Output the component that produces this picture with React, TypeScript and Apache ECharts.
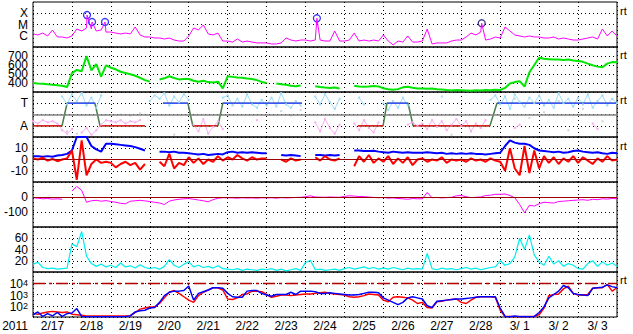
import React, { useEffect, useRef } from 'react';
import * as echarts from 'echarts';

// ---------------- data (3-hour steps from 2011-02-17 00:00 UT) ----------------
const STEP_H = 3;
const dateLabels = ['2/17', '2/18', '2/19', '2/20', '2/21', '2/22', '2/23', '2/24', '2/25', '2/26', '2/27', '2/28', '3/ 1', '3/ 2', '3/ 3'];

// X-ray flux, log10(W/m^2)
const xrayLog = [
  -5.84, -5.93, -5.76, -6.02, -5.49, -6.11, -6.11, -6.2,
  -6.02, -5.4, -5.58, -5.31, -5.4, -5.58, -5.49, -5.67,
  -5.67, -5.76, -5.84, -5.76, -5.84, -5.22, -5.93, -6.11,
  -6.11, -6.2, -6.2, -6.29, -6.2, -6.38, -6.47, -6.47,
  -6.02, -5.31, -5.49, -5.04, -5.84, -5.93, -5.76, -6.47,
  -6.47, -6.56, -6.29, -6.56, -6.47, -6.56, -6.64, -6.64,
  -6.64, -6.73, -6.73, -6.64, -6.2, -6.38, -6.47, -6.38,
  -6.38, -6.47, -6.38, -6.38, -6.47, -6.47, -5.58, -6.47,
  -6.47, -6.38, -5.76, -6.47, -6.38, -6.47, -6.38, -6.47,
  -5.93, -6.47, -6.82, -6.47, -6.56, -6.02, -6.56, -6.56,
  -6.47, -5.4, -6.73, -6.64, -6.64, -6.64, -6.47, -6.38,
  -6.38, -6.11, -5.76, -5.93, -5.67, -6.38, -6.29, -6.11,
  -6.2, -5.22, -5.58, -5.93, -6.02, -6.11, -6.02, -6.11,
  -6.11, -6.2, -6.2, -6.11, -6.29, -6.2, -6.29, -6.38,
  -6.38, -6.29, -6.2, -6.11, -6.29, -5.4, -6.02, -5.58, -6.02,
];
const flareHours = [33.3, 36.4, 44.4, 175, 276.6];
const flareLog = [-4.16, -4.78, -4.78, -4.45, -4.89];
const flareColors = ['#0000ff', '#0000ff', '#0000ff', '#0000ff', '#000066'];

// Solar wind speed, km/s
const windSpeed = [
  400, 395, 392, 385, 380, 376, 370, 355,
  510, 545, 530, 700, 540, 610, 470, 595,
  570, 552, 525, 512, 498, 480, 458, 432,
  415, null, 438, 452, 475, 455, 440, 445,
  445, 425, 415, 425, 410, 405, 415, 340,
  475, 468, 460, 458, 450, 445, 432, 412,
  400, null, 395, 385, 380, 370, 365, 372,
  null, null, 365, 356, 350, 345, 350, 340,
  null, null, 370, 362, 358, 360, 366, 362,
  342, 330, 325, 332, 352, 358, 348, 340,
  338, 335, 340, 330, 328, 322, 318, 322,
  320, 318, 315, 320, 318, 322, 320, 325,
  322, 345, 395, 410, 420, 360, 520, 600,
  680, 670, 665, 660, 662, 655, 660, 650,
  645, 635, 615, 598, 582, 575, 615, 632, 630,
];

// IMF sector polarity (T = +1, A = -1)
const polarityHours = [0, 17.9, 21, 38.2, 41.3, 69, 74, 80.1, 95.5, 98.5, 114, 117, 165.8, 180, 200.3, 215.8, 218.2, 231.2, 234.3, 281.7, 286, 360];
const polarityState = [-1, -1, 1, 1, -1, -1, null, 1, 1, -1, -1, 1, 1, null, -1, -1, 1, 1, -1, -1, 1, 1];

// IMF angle samples (toward / away / other)
const angleToward = [
  null, null, null, null, null, null, 1.6, 0.9,
  1.8, 1.2, 1.9, 0.8, 1.5, 0.6, 1.7, null,
  null, null, null, null, null, null, null, null,
  1.2, 1.7, 1.4, 1.9, 0.8, 1.6, 1.1, 1.8,
  1.3, null, null, null, null, null, null, 1.5,
  1.7, 0.8, 1.4, 0.7, 1.8, 0.9, 0.6, 1.3,
  0.8, 1.5, 0.7, 1.9, 0.9, 0.6, 1.2, 0.8,
  null, null, 1.6, 0.9, 1.8, 1.1, 0.5, 1.4,
  null, null, null, 1.5, 0.9, null, null, null,
  1.0, 0.4, 1.2, 0.6, 1.5, 0.8, null, null,
  null, null, null, null, 1.6, null, null, null,
  null, null, null, null, null, null, 1.3, 1.7,
  0.9, 1.6, 0.5, 1.8, 1.1, 0.7, 1.5, 1.0,
  1.7, 0.8, 1.3, 0.6, 1.9, 1.0, 1.4, 0.7,
  1.5, 0.9, 1.8, 0.6, 1.2, 1.7, 0.8, 1.4, 1.0,
];
const angleAway = [
  -0.6, -0.8, -0.5, -0.7, -0.6, -0.8, -1.4, -1.7,
  -1.3, null, -1.6, -1.2, -1.8, -1.4, -0.9, -0.5,
  -0.6, -0.7, -0.5, -0.8, -0.6, -0.7, -0.5, null,
  null, null, null, null, null, null, null, null,
  null, -0.9, -1.5, -0.4, -1.7, -1.1, -0.6, -1.3,
  null, null, null, null, null, null, -0.5, null,
  null, null, null, null, null, null, null, null,
  null, null, -0.7, -1.5, -0.4, -1.2, -1.7, -0.9,
  null, null, -0.8, -1.4, -0.5, -1.2, -1.6, -0.7,
  null, null, null, null, null, -0.9, -0.7, -1.0,
  -0.8, -1.3, -0.5, -1.1, -0.6, -1.4, -0.9, -0.4,
  -1.0, -0.6, -1.5, -0.8, -1.2, -0.5, null, null,
  null, null, null, -1.2, -0.9, null, null, null,
  null, null, null, null, null, null, null, null,
  null, null, null, -0.8, -1.3, null, null, null, null,
];
const angleOtherHours = [21, 27, 54, 60, 66, 87, 153, 159, 165, 258, 297, 306, 315, 324, 330, 339, 351];
const angleOtherValues = [-1.5, -1.7, 0.0, -0.1, 0.1, -1.8, 0.3, -0.1, 0.4, -1.8, 1.4, -0.3, 0.2, 1.2, -1.4, 0.5, -0.6];

// IMF Bt and Bz, nT
const bt = [
  3, 3, 2.5, 3, 2.5, 3.5, 4, 5,
  8, 20, 20, 20, 12, 9, 7, 14,
  14, 13.5, 13, 12.5, 12, 11, 9.5, 8,
  null, null, 7, 7, 6.5, 7, 6, 6,
  5.5, 5, 4.5, 5, 4, 4.5, 5, 4.5,
  6.5, 7, 6, 6.5, 6, 6.5, 6, 5.5,
  5.5, null, null, 4, 3.5, 4, 3.5, 3,
  null, null, 4, 4, 3.5, 4, 3.5, 4,
  null, null, 8, 8, 7.5, 7.5, 7.8, 7,
  6.5, 6, 7, 6.5, 6, 6.5, 6, 6,
  6, 6.5, 6, 5.5, 6, 5, 5.5, 5,
  5.5, 5, 5.5, 5, 5, 4.5, 5, 5.5,
  6, 12, 17, 15, 14, 14, 13, 10,
  8, 7.5, 7, 6.5, 7, 6, 6.5, 7.5,
  8, 7, 6.5, 6, 6.5, 5.5, 5, 6, 5.5,
];
const bz = [
  1, 0, 1.5, -1, 0.5, -1.5, 0, 1,
  8, -18, 17, -14, -4, 0, -3, -2,
  -3, -7, -4, -2, -5, -3, -9, -4,
  null, null, -2, -6, 5, -8, -3, -5,
  2, -3, 1, -4, 0, -2, 3, -1,
  2, 0, 4, 1, -1, 2, 0, 1,
  1, null, null, 0, -2, 1, -1, 0,
  null, null, 2, -1, 3, 0, -1, 1,
  null, null, -6, 3, -2, 4, -3, 1,
  -2, 3, -4, 1, -3, 2, -5, 0,
  1, -2, 0, -1, 2, -3, 0, -1,
  0, -2, 1, -1, 0, -2, 1, -1,
  -2, -10, 10, -8, -14, 12, -12, 8,
  -8, 3, -3, 2, -4, 1, -2, 3,
  -3, 2, -1, -4, 1, -2, 3, -1, 0,
];

// Dst-like index, nT
const dst = [
  -5, -8, -12, -10, -14, -12, -15, null,
  40, 70, 45, -35, -25, -22, -28, -24,
  -30, -35, -42, -45, -28, -25, -22, -26,
  -30, -35, -40, -50, -28, -20, -15, -12,
  -10, -15, -20, -25, -32, -18, -8, -5,
  -5, -6, -8, -5, -7, -6, -8, -5,
  -6, -5, -8, -4, -6, -5, -3, -2,
  2, 8, 0, -1, -2, 0, -1, -2,
  4, 8, 6, 3, 2, 0, -3, -5,
  -3, -8, -6, -10, -12, -15, -10, -12,
  -12, 30, -5, -3, -6, -4, -2, 8,
  10, 2, -4, -2, 0, 10, 12, 18,
  18, 20, 10, -5, -50, -105, -55, -60,
  -45, -35, -38, -40, -30, -28, -25, -22,
  -20, -18, -22, -15, -18, -12, -14, -10, -12,
];

// Geomagnetic activity (cyan)
const activity = [
  14, 17, 8, 6, 7, 5, 6, 7,
  50, 45, 72, 28, 15, 10, 14, 9,
  12, 8, 16, 9, 11, 7, 13, 8,
  6, 8, 5, 10, 22, 12, 8, 14,
  18, 9, 12, 8, 10, 7, 11, 6,
  5, 4, 6, 3, 5, 4, 3, 5,
  4, 6, 3, 5, 2, 4, 6, 3,
  17, 21, 4, 5, 3, 4, 5, 3,
  6, 8, 5, 7, 9, 6, 8, 5,
  7, 5, 8, 6, 4, 7, 5, 6,
  5, 33, 6, 4, 7, 5, 6, 4,
  6, 8, 5, 7, 4, 6, 8, 9,
  20, 12, 15, 27, 60, 40, 66, 30,
  18, 12, 28, 14, 20, 10, 15, 12,
  6, 5, 15, 20, 10, 18, 12, 16, 10,
];

// Electron flux, log10
const fluxRed = [
  1.3, 1.25, 1.35, 1.45, 1.5, 1.45, 1.4, 1.45,
  1.25, 1.2, 1.15, 1.1, 1.1, 1.1, 1.08, 1.1,
  1.1, 1.1, 1.08, 1.1, 1.12, 1.4, 1.7, 1.8,
  1.9, 1.9, 2.2, 2.7, 3.2, 3.35, 3.1, 2.8,
  2.5, 2.3, 2.9, 3.2, 3.4, 3.6, 3.6, 3.4,
  2.6, 2.55, 2.7, 3.0, 3.05, 3.3, 3.3, 3.25,
  3.0, 2.75, 2.85, 2.95, 2.95, 2.9, 2.95, 3.0,
  3.05, 3.05, 3.1, 3.15, 3.2, 3.1, 3.05, 3.0,
  2.95, 2.8, 2.75, 2.8, 2.9, 3.05, 3.0, 2.95,
  2.5, 2.35, 2.75, 2.8, 2.75, 2.7, 2.5, 2.2,
  2.3, 1.85, 1.8, 2.35, 2.4, 2.5, 2.55, 2.6,
  2.3, 2.2, 2.5, 2.75, 2.8, 2.8, 2.8, 2.75,
  1.6, 1.05, 1.05, 1.03, 1.05, 1.03, 1.05, 1.05,
  1.2, 1.8, 2.9, 3.0, 3.05, 3.5, 3.75, 3.1,
  2.95, 2.95, 3.0, 3.55, 3.6, 3.6, 3.9, 3.3, 3.6,
];
const fluxBlue = [
  1.2, 1.45, 1.05, 1.3, 1.1, 1.4, 1.05, 1.3,
  1.35, 1.75, 1.05, 1.03, 1.03, 1.03, 1.03, 1.03,
  1.03, 1.03, 1.03, 1.05, 1.1, 1.45, 1.55, 1.6,
  1.8, 1.85, 2.3, 2.9, 3.2, 3.3, 3.3, 3.35,
  3.75, 2.5, 3.1, 3.25, 3.4, 3.6, 3.6, 3.55,
  3.1, 2.8, 2.75, 2.75, 3.3, 3.35, 3.35, 3.1,
  2.95, 2.85, 3.0, 3.0, 3.0, 3.2, 3.0, 3.3,
  3.3, 3.3, 3.25, 3.1, 3.1, 3.15, 3.1, 3.05,
  3.0, 2.95, 2.95, 3.0, 3.1, 3.2, 3.2, 3.15,
  2.7, 2.5, 2.3, 2.1, 2.3, 2.7, 2.8, 2.7,
  2.6, 2.0, 1.85, 2.4, 2.45, 2.5, 2.55, 2.6,
  2.6, 2.65, 2.7, 2.75, 2.8, 2.8, 2.8, 2.8,
  1.8, 1.05, 1.03, 1.08, 1.03, 1.05, 1.03, 1.05,
  1.4, 1.9, 2.7, 3.0, 3.3, 3.8, 3.6, 3.1,
  3.0, 2.95, 2.9, 3.55, 3.6, 3.65, 3.85, 3.7, 3.6,
];

const xrayLabels: Record<string, string> = { '-4': 'X', '-5': 'M', '-6': 'C' };

// ---------------- option ----------------
const FONT = 'Liberation Sans, Arial, Helvetica, sans-serif';
const GRID_TOPS = [2, 47, 92, 137, 182, 227, 272];
const GRID_H = 45;
const DOT = { color: '#000', type: [1, 3] as number[], width: 1 };

const toXY = (vals: (number | null)[]) => vals.map((v, i) => [i * STEP_H, v == null ? '-' : v]);

function buildOption(): any {
  const grids = GRID_TOPS.map((top) => ({
    left: 33, right: 16, top, height: GRID_H, show: true,
    borderColor: '#000', borderWidth: 1, backgroundColor: 'transparent',
    containLabel: false, outerBoundsMode: 'none',
  }));

  const xAxes: any[] = GRID_TOPS.map((_, i) => ({
    type: 'value', gridIndex: i, min: 0, max: 360, interval: 24,
    position: i === 6 ? 'top' : 'bottom',
    axisLine: { show: false }, axisTick: { show: false }, axisLabel: { show: false },
    splitLine: { show: true, lineStyle: DOT },
  }));
  xAxes.push({
    type: 'category', gridIndex: 6, position: 'bottom', data: dateLabels, boundaryGap: true,
    axisLine: { show: false }, axisTick: { show: false }, splitLine: { show: false },
    axisLabel: { color: '#000', fontSize: 12, margin: 3, interval: 0, fontFamily: FONT },
    name: '2011', nameLocation: 'start', nameGap: 5,
    nameTextStyle: { color: '#000', fontSize: 12, fontFamily: FONT, verticalAlign: 'top', padding: [3, 0, 0, 0] },
  });

  const yBase = (i: number, min: number, max: number, interval: number, formatter: any, lh: number) => ({
    type: 'value', gridIndex: i, min, max, interval,
    axisLine: { show: false }, axisTick: { show: false },
    axisLabel: { color: '#000', fontSize: 12, lineHeight: lh, margin: 5, fontFamily: FONT, formatter, showMinLabel: true, showMaxLabel: true },
    splitLine: { show: true, lineStyle: DOT },
  });
  const between = (lo: number, hi: number) => (v: number) => (v >= lo && v <= hi ? String(v) : '');

  const yAxes: any[] = [
    yBase(0, -7, -3, 1, (v: number) => xrayLabels[String(v)] ?? '', 10),
    yBase(1, 300, 800, 100, between(400, 700), 8),
    yBase(2, -2, 2, 1, (v: number) => (v === 1 ? 'T' : v === -1 ? 'A' : ''), 10),
    yBase(3, -20, 20, 10, between(-10, 10), 10),
    yBase(4, -200, 100, 100, between(-100, 0), 10),
    yBase(5, 0, 80, 20, between(20, 60), 10),
    yBase(6, 1, 5, 1, (v: number) => (v >= 2 && v <= 4 ? `{b|10}{s|${v}}` : ''), 10),
  ];
  yAxes[0].splitLine.lineStyle = { ...DOT, color: ['rgba(0,0,0,0)', 'rgba(0,0,0,0)', '#000', '#000', 'rgba(0,0,0,0)'] };
  yAxes[6].axisLabel.rich = {
    b: { fontSize: 12, color: '#000', fontFamily: FONT, lineHeight: 9, padding: [2, 0, 0, 0] },
    s: { fontSize: 9, color: '#000', fontFamily: FONT, lineHeight: 8, verticalAlign: 'top' },
  };

  const line = (name: string, idx: number, data: any[], color: string, width: number, extra: any = {}) => ({
    name, type: 'line', xAxisIndex: idx, yAxisIndex: idx, data, showSymbol: false,
    lineStyle: { color, width }, itemStyle: { color }, silent: true, ...extra,
  });
  const refLine = (value: number, color: string, width: number, type: any) => ({
    silent: true, symbol: ['none', 'none'], label: { show: false }, animation: false,
    data: [{ yAxis: value, lineStyle: { color, width, type } }],
  });

  const xrayData = [
    ...xrayLog.map((v, i) => [i * STEP_H, v]),
    ...flareHours.map((h, k) => [h, flareLog[k]]),
  ].sort((a, b) => a[0] - b[0]);

  const polAll = polarityHours.map((h, i) => [h, polarityState[i] == null ? '-' : polarityState[i]]);
  const polT = polarityHours.map((h, i) => [h, polarityState[i] === 1 ? 1 : '-']);
  const polA = polarityHours.map((h, i) => [h, polarityState[i] === -1 ? -1 : '-']);

  const dotSeries = (name: string, data: any[], color: string) =>
    line(name, 2, data, color, 1, { showSymbol: true, symbol: 'rect', symbolSize: 2 });

  const series: any[] = [
    line('xray', 0, xrayData, '#ff00ff', 1),
    {
      name: 'flares', type: 'scatter', xAxisIndex: 0, yAxisIndex: 0, symbol: 'circle', symbolSize: 7, silent: true,
      data: flareHours.map((h, k) => ({ value: [h, flareLog[k]], itemStyle: { color: 'rgba(255,255,255,0)', borderColor: flareColors[k], borderWidth: 1.3 } })),
    },
    line('speed', 1, toXY(windSpeed), '#00e600', 2),
    dotSeries('toward', toXY(angleToward), '#9cdcfa'),
    dotSeries('away', toXY(angleAway), '#f8aef0'),
    {
      name: 'other', type: 'scatter', xAxisIndex: 2, yAxisIndex: 2, symbol: 'rect', symbolSize: 2, silent: true,
      itemStyle: { color: '#c8c8c8' }, data: angleOtherHours.map((h, k) => [h, angleOtherValues[k]]),
      markLine: refLine(0, '#808080', 1.5, 'solid'),
    },
    line('sector', 2, polAll, '#4a7f4a', 1.5),
    line('sectorT', 2, polT, '#3a55ff', 1.5),
    line('sectorA', 2, polA, '#e02020', 1.5),
    line('bt', 3, toXY(bt), '#0000ff', 2),
    line('bz', 3, toXY(bz), '#ff0000', 2, { markLine: refLine(0, '#a00000', 1.2, 'solid') }),
    line('dst', 4, toXY(dst), '#ff00ff', 1, { markLine: refLine(0, '#a00000', 1.2, 'solid') }),
    line('activity', 5, toXY(activity), '#00eeee', 1.2),
    line('fluxRed', 6, toXY(fluxRed), '#ff0000', 1.5, { markLine: refLine(4, '#b00000', 1.3, [12, 4, 3, 4]) }),
    line('fluxBlue', 6, toXY(fluxBlue), '#0000ff', 1.5),
  ];

  const rtTops = [5, 49, 94, 140, 274];
  const graphic = rtTops.map((top) => ({
    type: 'text', left: 620, top, silent: true,
    style: { text: 'rt', fontSize: 11, fill: '#000', fontFamily: FONT },
  }));

  return {
    animation: false,
    backgroundColor: '#ffffff',
    textStyle: { fontFamily: FONT },
    grid: grids,
    xAxis: xAxes,
    yAxis: yAxes,
    series,
    graphic,
  };
}

export default function App() {
  const ref = useRef<HTMLDivElement>(null);
  useEffect(() => {
    const chart = echarts.init(ref.current!, null, { renderer: 'svg' });
    chart.setOption(buildOption());
    return () => chart.dispose();
  }, []);
  return (
    <div
      ref={ref}
      style={{ position: 'fixed', left: 0, top: 0, width: 633, height: 334, background: '#fff' }}
    />
  );
}
